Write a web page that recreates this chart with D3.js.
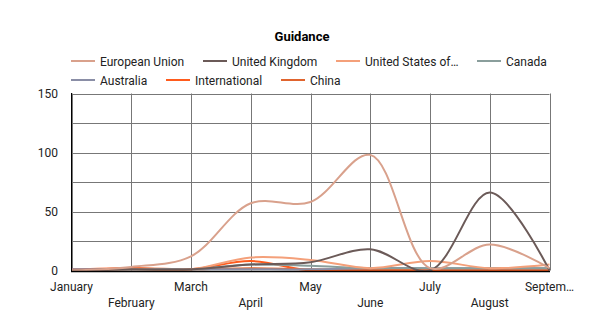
<!DOCTYPE html>
<html><head><meta charset="utf-8">
<script src="https://cdn.jsdelivr.net/npm/d3@7"></script>
<style>body{margin:0;background:#fff;} svg{display:block;font-family:Roboto, "Noto Sans", sans-serif;}</style>
</head><body><svg id="c" width="600" height="331"></svg>
<script>
const months = ["January","February","March","April","May","June","July","August","September"];
const monthLabels = ["January","February","March","April","May","June","July","August","Septem…"];
const seriesNames = ["European Union","United Kingdom","United States of America","Canada","Australia","International","China"];
const legendLabels = ["European Union","United Kingdom","United States of…","Canada","Australia","International","China"];
const colors = ["#d9a18c","#6b5a58","#f4a07a","#8a9e9c","#8a8ea6","#ff5b1d","#e0642e"];
const euValues = [0,3,12,57,58,98,2,22,2];
const ukValues = [0,1,1,5,7,18,0,66,0];
const usValues = [0,1,1,11,9,2,8,2,5];
const caValues = [0,1,1,5,4,2,2,2,2];
const auValues = [1,1,1,1,1,2,2,2,2];
const intlValues = [1,2,1,8,0,0,0,0,0];
const cnValues = [0,2,1,2,1,1,1,1,1];
const yTicks = [0,25,50,75,100,125,150];
const yLabels = [0,50,100,150];

const allValues = [euValues,ukValues,usValues,caValues,auValues,intlValues,cnValues];
const svg = d3.select("#c");
const x = d3.scalePoint().domain(months).range([71.5,549.5]);
const y = d3.scaleLinear().domain([0,150]).range([270.5,93.5]);

svg.append("text").attr("x",302).attr("y",41).attr("text-anchor","middle")
  .attr("font-weight","bold").attr("font-size",13).attr("fill","#000").text("Guidance");

// legend
const legendPos = [[71,61],[203,61],[336,61],[477,61],[71,80],[166,80],[281,80]];
legendLabels.forEach((l,i)=>{
  const [lx,ly] = legendPos[i];
  svg.append("line").attr("x1",lx).attr("x2",lx+24).attr("y1",ly).attr("y2",ly)
    .attr("stroke",colors[i]).attr("stroke-width",2);
  svg.append("text").attr("x",lx+29).attr("y",ly+4.5).attr("font-size",12).attr("fill","#222").text(l);
});

// gridlines
const g = svg.append("g");
g.selectAll(".hg").data(yTicks).join("line").attr("x1",71.5).attr("x2",549.5)
  .attr("y1",d=>Math.round(y(d))+0.5).attr("y2",d=>Math.round(y(d))+0.5).attr("stroke","#777").attr("stroke-width",1);
g.selectAll(".vg").data(months).join("line").attr("y1",93.5).attr("y2",270.5)
  .attr("x1",d=>Math.round(x(d))+0.5).attr("x2",d=>Math.round(x(d))+0.5).attr("stroke","#777").attr("stroke-width",1);

// y labels
svg.selectAll(".yl").data(yLabels).join("text").attr("x",58).attr("y",d=>y(d)+4.5)
  .attr("text-anchor","end").attr("font-size",12).attr("fill","#222").text(d=>d);
// x labels
svg.selectAll(".xl").data(months).join("text").attr("x",d=>x(d))
  .attr("y",(d,i)=> i%2===0 ? 291 : 307).attr("text-anchor","middle").attr("font-size",12).attr("fill","#222")
  .text((d,i)=>monthLabels[i]);

// lines
const clip = svg.append("clipPath").attr("id","clp").append("rect").attr("x",71).attr("y",60).attr("width",480).attr("height",211);
const line = d3.line().x((d,i)=>x(months[i])).y(d=>y(d)).curve(d3.curveCatmullRom.alpha(0.5));
const drawOrder = [6,5,4,3,2,1,0];
drawOrder.forEach(i=>{
  svg.append("path").attr("d",line(allValues[i])).attr("fill","none").attr("stroke",colors[i])
    .attr("stroke-width",2).attr("clip-path","url(#clp)");
});

// axes
svg.append("line").attr("x1",71.5).attr("x2",71.5).attr("y1",93).attr("y2",271.5).attr("stroke","#000").attr("stroke-width",1);
svg.append("line").attr("x1",71).attr("x2",550).attr("y1",271.5).attr("y2",271.5).attr("stroke","#000").attr("stroke-width",1.5);
</script></body></html>
